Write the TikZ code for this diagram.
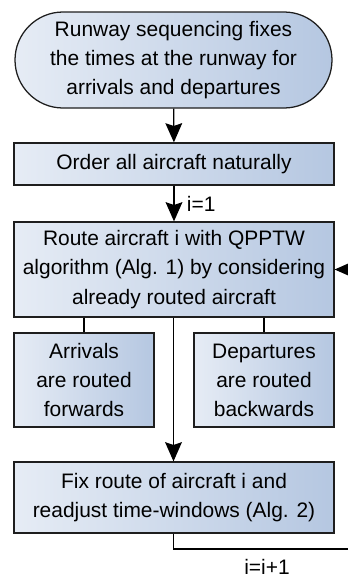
\documentclass[tikz,border=0pt]{standalone}
\usepackage{fontspec}
\setmainfont{Liberation Sans}
\usepackage{xcolor}
\usetikzlibrary{arrows.meta}

\definecolor{boxleft}{HTML}{E6ECF5}
\definecolor{boxright}{HTML}{B5C7E1}
\definecolor{boxline}{HTML}{1E1E1E}

\tikzset{
  flowbox/.style  = {draw=boxline, line width=0.9pt, left color=boxleft,
                     right color=boxright, align=center, inner sep=0pt,
                     font=\fontsize{14.9}{20.7}\selectfont},
  termbox/.style  = {flowbox, rounded corners=1.2cm},
  flowline/.style = {line width=0.9pt, color=black},
  flowarrow/.style= {flowline, -{Stealth[length=0.48cm, width=0.42cm, inset=0.07cm]}},
  steplabel/.style= {font=\fontsize{14.9}{18}\selectfont, inner sep=0pt}
}

\begin{document}
\begin{tikzpicture}

\useasboundingbox (0, 0) rectangle (8.675, -14.425);

% level 1

\node [termbox, minimum width=7.925cm, minimum height=2.4cm]
      at (4.3375, -1.5) (runway) {Runway sequencing fixes\\the times at the runway for\\arrivals and departures};

\node [flowbox, minimum width=8cm, minimum height=1.05cm]
      at (4.35, -4.1) (order) {Order all aircraft naturally};

% level 2

\node [flowbox, minimum width=8cm, minimum height=2.375cm]
      at (4.35, -6.7375) (route) {Route aircraft i with QPPTW\\algorithm (Alg. 1) by considering\\already routed aircraft};

\node [flowbox, minimum width=3.5cm, minimum height=2.35cm]
      at (2.1, -9.5) (arrivals) {Arrivals\\are routed\\forwards};
\node [flowbox, minimum width=3.5cm, minimum height=2.35cm]
      at (6.6, -9.5) (departures) {Departures\\are routed\\backwards};

% level 3

\node [flowbox, minimum width=8cm, minimum height=1.775cm]
      at (4.35, -12.4375) (fix) {Fix route of aircraft i and\\readjust time-windows (Alg. 2)};

\coordinate (loopc) at (9.3, -13.725);

\node [steplabel] at (5.03, -5.1) (init) {i=1};
\node [steplabel] at (6.675, -14.17) (incr) {i=i+1};

% connectors

\draw [flowarrow] (runway) -- (order);
\draw [flowarrow] (order) -- (route);
\draw [flowline] (route.south -| arrivals.north) -- (arrivals.north);
\draw [flowline] (route.south -| departures.north) -- (departures.north);
\draw [flowarrow] (route.south -| runway.south) -- (fix.north -| runway.south);
\draw [flowline] (fix.south -| runway.south) |- (loopc);
\draw [flowarrow] (loopc) |- (route.east);

\end{tikzpicture}
\end{document}
